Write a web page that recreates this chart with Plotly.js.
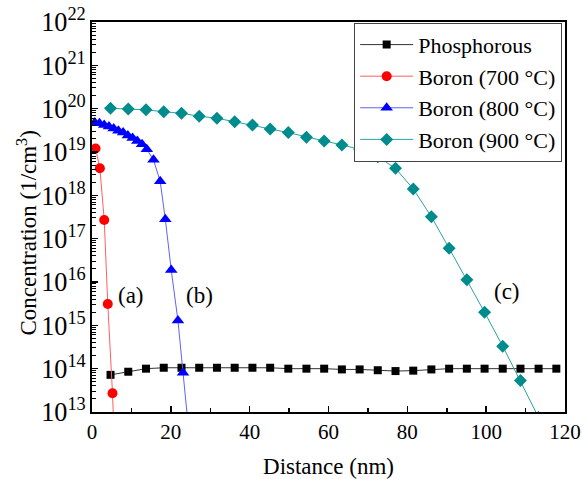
<!DOCTYPE html>
<html>
<head>
<meta charset="utf-8">
<script src="https://cdn.plot.ly/plotly-3.0.1.min.js"></script>
<style>html,body{margin:0;padding:0;background:#fff;}#chart{width:582px;height:479px;}</style>
</head>
<body>
<div id="chart"></div>
<script>
// Phosphorous
var phosX = [4.7, 9.2, 13.7, 18.2, 22.7, 27.2, 31.7, 36.2, 40.7, 45.2, 49.8, 54.4, 58.9, 63.4, 67.9, 72.5, 77.0, 81.5, 86.1, 90.6, 95.1, 99.6, 104.2, 108.7, 113.3, 117.8];
var phosY = [7.2e13, 8.5e13, 1.0e14, 1.05e14, 1.05e14, 1.05e14, 1.05e14, 1.05e14, 1.05e14, 1.05e14, 1.0e14, 1.0e14, 1.0e14, 9.6e13, 9.6e13, 9.2e13, 8.8e13, 9.0e13, 9.6e13, 1.0e14, 1.0e14, 1.0e14, 1.0e14, 1.0e14, 1.0e14, 1.0e14];
// Boron 700 C
var b700X = [0.9, 2.0, 3.1, 4.0, 5.2, 6.3];
var b700Y = [1.2e19, 4.2e18, 2.7e17, 3.1e15, 2.7e13, 5e10];
// Boron 800 C
var b800X = [0.7, 1.9, 3.1, 4.3, 5.5, 6.7, 7.9, 9.1, 10.3, 11.5, 12.7, 13.9, 15.6, 17.3, 18.6, 20.1, 21.8, 23.1, 24.5];
var b800Y = [4.8e19, 4.6e19, 4.2e19, 3.9e19, 3.5e19, 3.1e19, 2.8e19, 2.4e19, 2.1e19, 1.8e19, 1.5e19, 1.15e19, 6.6e18, 2.1e18, 2.8e17, 1.9e16, 1.3e15, 8.0e13, 4e12];
// Boron 900 C
var b900X = [4.7, 9.2, 13.7, 18.2, 22.7, 27.2, 31.7, 36.2, 40.7, 45.2, 49.8, 54.4, 58.9, 63.4, 67.9, 72.5, 77.0, 81.5, 86.1, 90.6, 95.1, 99.6, 104.2, 108.7, 113.3];
var b900Y = [1.02e20, 9.8e19, 9.4e19, 8.5e19, 7.8e19, 6.7e19, 6.0e19, 5.0e19, 4.2e19, 3.4e19, 2.8e19, 2.2e19, 1.8e19, 1.46e19, 1.15e19, 7.8e18, 4.2e18, 1.4e18, 3.2e17, 6.0e16, 1.12e16, 2.0e15, 3.3e14, 5.3e13, 7.5e12];

var seriesNames = ['Phosphorous', 'Boron (700 \u00B0C)', 'Boron (800 \u00B0C)', 'Boron (900 \u00B0C)'];
var curveLabels = ['(a)', '(b)', '(c)'];
var labelX = [9.8, 27.2, 105.2];
var labelY = [5e15, 5e15, 6e15];

var serif = '"Liberation Serif", "Times New Roman", serif';

var traces = [
  {x: phosX, y: phosY, name: seriesNames[0], mode: 'lines+markers',
   line: {color: '#333333', width: 1}, marker: {symbol: 'square', size: 8, color: '#000000'}},
  {x: b700X, y: b700Y, name: seriesNames[1], mode: 'lines+markers',
   line: {color: '#ff6060', width: 1}, marker: {symbol: 'circle', size: 10, color: '#ff0000'}},
  {x: b800X, y: b800Y, name: seriesNames[2], mode: 'lines+markers',
   line: {color: '#6060ff', width: 1}, marker: {symbol: 'triangle-up', size: 11, color: '#0000ff'}},
  {x: b900X, y: b900Y, name: seriesNames[3], mode: 'lines+markers',
   line: {color: '#2aa3a3', width: 1}, marker: {symbol: 'diamond', size: 10, color: '#008c8c'}}
];

var annotations = curveLabels.map(function (t, i) {
  return {x: labelX[i], y: Math.log10(labelY[i]), xref: 'x', yref: 'y', text: t, showarrow: false,
          font: {family: serif, size: 23, color: '#000'}};
});
annotations.push({
  x: -0.137, y: 0.458, xref: 'paper', yref: 'paper', text: 'Concentration (1/cm<sup>3</sup>)',
  textangle: -90, showarrow: false, xanchor: 'center', yanchor: 'middle',
  font: {family: serif, size: 23, color: '#000'}
});

var layout = {
  width: 582, height: 479,
  margin: {l: 92, r: 17, t: 22, b: 67},
  paper_bgcolor: '#fff', plot_bgcolor: '#fff',
  font: {family: serif, size: 20, color: '#000'},
  showlegend: true,
  legend: {x: 0.994, xanchor: 'right', y: 0.998, yanchor: 'top',
           bgcolor: '#fff', bordercolor: '#444', borderwidth: 1,
           font: {family: serif, size: 22, color: '#000'}, itemwidth: 53, tracegroupgap: 0},
  xaxis: {range: [0, 120], dtick: 20, ticks: 'inside', ticklen: 6, tickwidth: 1.5, tickcolor: '#000',
          showline: true, linewidth: 2, linecolor: '#000', mirror: true, showgrid: false, zeroline: false,
          minor: {dtick: 10, ticks: 'inside', ticklen: 4, tickwidth: 1.5, tickcolor: '#000', showgrid: false},
          tickfont: {family: serif, size: 21, color: '#000'},
          title: {text: 'Distance (nm)', font: {family: serif, size: 23, color: '#000'}, standoff: 19}},
  yaxis: {type: 'log', range: [13, 22], dtick: 1, exponentformat: 'power', ticks: 'inside', ticklen: 6, tickwidth: 1.5,
          tickcolor: '#000', showline: true, linewidth: 2, linecolor: '#000', mirror: true, showgrid: false, zeroline: false,
          minor: {dtick: 'D1', ticks: 'inside', ticklen: 4, tickwidth: 1, tickcolor: '#000', showgrid: false},
          tickfont: {family: serif, size: 21, color: '#000'}},
  annotations: annotations
};

Plotly.newPlot('chart', traces, layout, {displayModeBar: false, staticPlot: true});
</script>
</body>
</html>
